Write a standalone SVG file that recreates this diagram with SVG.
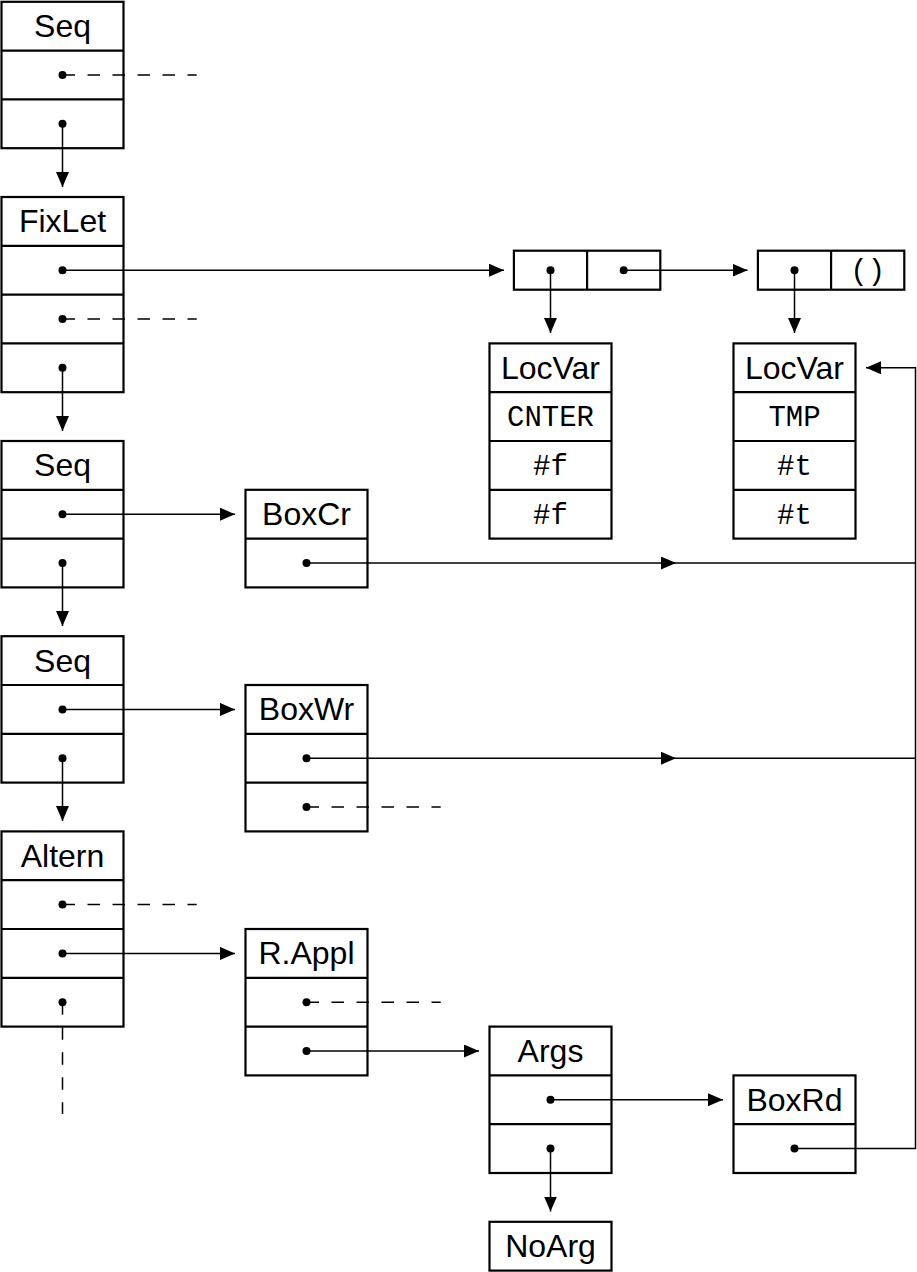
<svg xmlns="http://www.w3.org/2000/svg" width="917" height="1272" viewBox="0 0 917 1272">
<style>
.box{fill:#fff;stroke:#000;stroke-width:2.2}
.div{stroke:#000;stroke-width:2.2}
.t{font-family:"Liberation Sans",Arial,sans-serif;font-size:32px;text-anchor:middle;fill:#000}
.m{font-family:"Liberation Mono","Courier New",monospace;font-size:29px;text-anchor:middle;fill:#000}
.c{fill:none;stroke:#000;stroke-width:1.5}
.a{marker-end:url(#ah)}
.mid{marker-mid:url(#ah)}
.d{fill:none;stroke:#000;stroke-width:1.5;stroke-dasharray:12.5 12.5}
.dot{fill:#000}
</style>
<defs>
<marker id="ah" markerUnits="userSpaceOnUse" markerWidth="16" markerHeight="14" refX="15" refY="6.5" orient="auto">
<path d="M0,0 L15,6.5 L0,13 z" fill="#000"/>
</marker>
</defs>

<g id="seq1">
<rect class="box" x="1.5" y="1.8" width="122" height="146.4"/>
<line class="div" x1="1.5" y1="50.6" x2="123.5" y2="50.6"/>
<line class="div" x1="1.5" y1="99.4" x2="123.5" y2="99.4"/>
<text class="t" x="62.5" y="37.2">Seq</text>
</g>
<g id="fixlet">
<rect class="box" x="1.5" y="197" width="122" height="195.2"/>
<line class="div" x1="1.5" y1="245.8" x2="123.5" y2="245.8"/>
<line class="div" x1="1.5" y1="294.6" x2="123.5" y2="294.6"/>
<line class="div" x1="1.5" y1="343.4" x2="123.5" y2="343.4"/>
<text class="t" x="62.5" y="232.4">FixLet</text>
</g>
<g id="seq2">
<rect class="box" x="1.5" y="441" width="122" height="146.4"/>
<line class="div" x1="1.5" y1="489.8" x2="123.5" y2="489.8"/>
<line class="div" x1="1.5" y1="538.6" x2="123.5" y2="538.6"/>
<text class="t" x="62.5" y="476.4">Seq</text>
</g>
<g id="seq3">
<rect class="box" x="1.5" y="636.2" width="122" height="146.4"/>
<line class="div" x1="1.5" y1="685" x2="123.5" y2="685"/>
<line class="div" x1="1.5" y1="733.8" x2="123.5" y2="733.8"/>
<text class="t" x="62.5" y="671.6">Seq</text>
</g>
<g id="altern">
<rect class="box" x="1.5" y="831.4" width="122" height="195.2"/>
<line class="div" x1="1.5" y1="880.2" x2="123.5" y2="880.2"/>
<line class="div" x1="1.5" y1="929" x2="123.5" y2="929"/>
<line class="div" x1="1.5" y1="977.8" x2="123.5" y2="977.8"/>
<text class="t" x="62.5" y="866.8">Altern</text>
</g>
<g id="boxcr">
<rect class="box" x="245.5" y="489.8" width="122" height="97.6"/>
<line class="div" x1="245.5" y1="538.6" x2="367.5" y2="538.6"/>
<text class="t" x="306.5" y="525.2">BoxCr</text>
</g>
<g id="boxwr">
<rect class="box" x="245.5" y="685" width="122" height="146.4"/>
<line class="div" x1="245.5" y1="733.8" x2="367.5" y2="733.8"/>
<line class="div" x1="245.5" y1="782.6" x2="367.5" y2="782.6"/>
<text class="t" x="306.5" y="720.4">BoxWr</text>
</g>
<g id="rappl">
<rect class="box" x="245.5" y="929" width="122" height="146.4"/>
<line class="div" x1="245.5" y1="977.8" x2="367.5" y2="977.8"/>
<line class="div" x1="245.5" y1="1026.6" x2="367.5" y2="1026.6"/>
<text class="t" x="306.5" y="964.4">R.Appl</text>
</g>
<g id="locvar1">
<rect class="box" x="489.5" y="343.4" width="122" height="195.2"/>
<line class="div" x1="489.5" y1="392.2" x2="611.5" y2="392.2"/>
<line class="div" x1="489.5" y1="441" x2="611.5" y2="441"/>
<line class="div" x1="489.5" y1="489.8" x2="611.5" y2="489.8"/>
<text class="t" x="550.5" y="378.8">LocVar</text>
<text class="m" x="550.5" y="426.1">CNTER</text>
<text class="m" x="550.5" y="474.9">#f</text>
<text class="m" x="550.5" y="523.7">#f</text>
</g>
<g id="locvar2">
<rect class="box" x="733.5" y="343.4" width="122" height="195.2"/>
<line class="div" x1="733.5" y1="392.2" x2="855.5" y2="392.2"/>
<line class="div" x1="733.5" y1="441" x2="855.5" y2="441"/>
<line class="div" x1="733.5" y1="489.8" x2="855.5" y2="489.8"/>
<text class="t" x="794.5" y="378.8">LocVar</text>
<text class="m" x="794.5" y="426.1">TMP</text>
<text class="m" x="794.5" y="474.9">#t</text>
<text class="m" x="794.5" y="523.7">#t</text>
</g>
<g id="args">
<rect class="box" x="489.5" y="1026.6" width="122" height="146.4"/>
<line class="div" x1="489.5" y1="1075.4" x2="611.5" y2="1075.4"/>
<line class="div" x1="489.5" y1="1124.2" x2="611.5" y2="1124.2"/>
<text class="t" x="550.5" y="1062">Args</text>
</g>
<g id="noarg">
<rect class="box" x="489.5" y="1221.8" width="122" height="48.8"/>
<text class="t" x="550.5" y="1257.2">NoArg</text>
</g>
<g id="boxrd">
<rect class="box" x="733.5" y="1075.4" width="122" height="97.6"/>
<line class="div" x1="733.5" y1="1124.2" x2="855.5" y2="1124.2"/>
<text class="t" x="794.5" y="1110.8">BoxRd</text>
</g>
<g id="cons1">
<rect class="box" x="513.9" y="250.7" width="146.4" height="39"/>
<line class="div" x1="587.1" y1="250.7" x2="587.1" y2="289.7"/>
</g>
<g id="cons2">
<rect class="box" x="757.9" y="250.7" width="146.4" height="39"/>
<line class="div" x1="831.1" y1="250.7" x2="831.1" y2="289.7"/>
<text class="m" x="867.7" y="279.7">()</text>
</g>

<g id="connectors">
<path class="c a" d="M62.5,123.8 V187"/>
<path class="c a" d="M62.5,270.2 H504"/>
<path class="c a" d="M62.5,367.8 V431"/>
<path class="c a" d="M550.5,270.2 V333"/>
<path class="c a" d="M623.7,270.2 H747.5"/>
<path class="c a" d="M794.5,270.2 V333"/>
<path class="c a" d="M62.5,514.2 H235"/>
<path class="c a" d="M62.5,563 V626"/>
<path class="c mid" d="M306.5,563 L676,563 L915.5,563"/>
<path class="c a" d="M62.5,709.4 H235"/>
<path class="c a" d="M62.5,758.2 V821"/>
<path class="c mid" d="M306.5,758.2 L676,758.2 L915.5,758.2"/>
<path class="c a" d="M62.5,953.4 H235"/>
<path class="c a" d="M306.5,1051 H479"/>
<path class="c a" d="M550.5,1099.8 H723"/>
<path class="c a" d="M550.5,1148.6 V1211.5"/>
<path class="c a" d="M794.5,1148.6 H915.5 V367.8 H866"/>
<path class="d" d="M62.5,75 H196.7"/>
<path class="d" d="M62.5,319 H196.7"/>
<path class="d" d="M306.5,807 H440.7"/>
<path class="d" d="M62.5,904.6 H196.7"/>
<path class="d" d="M306.5,1002.2 H440.7"/>
<path class="d" d="M62.5,1002.2 V1114"/>
<circle class="dot" cx="62.5" cy="75" r="4"/>
<circle class="dot" cx="62.5" cy="123.8" r="4"/>
<circle class="dot" cx="62.5" cy="270.2" r="4"/>
<circle class="dot" cx="62.5" cy="319" r="4"/>
<circle class="dot" cx="62.5" cy="367.8" r="4"/>
<circle class="dot" cx="550.5" cy="270.2" r="4"/>
<circle class="dot" cx="623.7" cy="270.2" r="4"/>
<circle class="dot" cx="794.5" cy="270.2" r="4"/>
<circle class="dot" cx="62.5" cy="514.2" r="4"/>
<circle class="dot" cx="62.5" cy="563" r="4"/>
<circle class="dot" cx="306.5" cy="563" r="4"/>
<circle class="dot" cx="62.5" cy="709.4" r="4"/>
<circle class="dot" cx="62.5" cy="758.2" r="4"/>
<circle class="dot" cx="306.5" cy="758.2" r="4"/>
<circle class="dot" cx="306.5" cy="807" r="4"/>
<circle class="dot" cx="62.5" cy="904.6" r="4"/>
<circle class="dot" cx="62.5" cy="953.4" r="4"/>
<circle class="dot" cx="62.5" cy="1002.2" r="4"/>
<circle class="dot" cx="306.5" cy="1002.2" r="4"/>
<circle class="dot" cx="306.5" cy="1051" r="4"/>
<circle class="dot" cx="550.5" cy="1099.8" r="4"/>
<circle class="dot" cx="550.5" cy="1148.6" r="4"/>
<circle class="dot" cx="794.5" cy="1148.6" r="4"/>
</g>
</svg>
